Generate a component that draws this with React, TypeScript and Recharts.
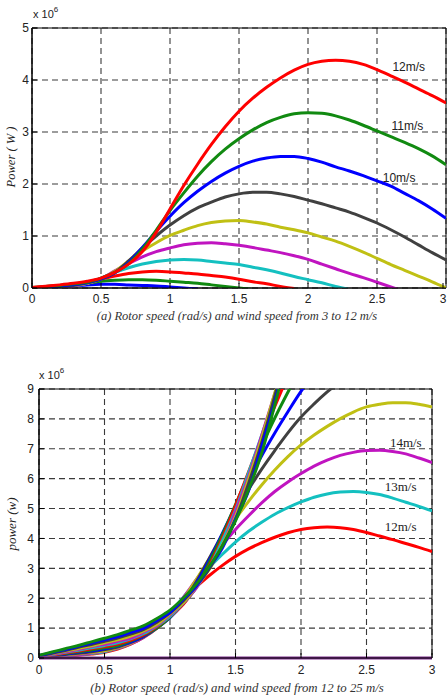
import { CartesianGrid, Line, LineChart, ReferenceArea, ReferenceDot, ReferenceLine, XAxis, YAxis } from "recharts"

// rotor speed grid (rad/s), shared by every curve
const rotorSpeed = [0, 0.1, 0.2, 0.3, 0.4, 0.5, 0.6, 0.7, 0.8, 0.9, 1, 1.1, 1.2, 1.3, 1.4, 1.5, 1.6, 1.7, 1.8, 1.9, 2, 2.1, 2.2, 2.3, 2.4, 2.5, 2.6, 2.7, 2.8, 2.9, 3]

// (a) power in MW for wind speeds 3..12 m/s
const p3 = [0, 0, 0.01, 0.04, 0.06, 0.07, 0.07, 0.06, 0.05, 0.04, 0.02, 0, -0.02]
const p4 = [0, 0, 0.01, 0.04, 0.09, 0.13, 0.15, 0.16, 0.16, 0.15, 0.13, 0.11, 0.09, 0.06, 0.03, 0, -0.03]
const p5 = [0, 0.01, 0.01, 0.04, 0.1, 0.17, 0.23, 0.28, 0.31, 0.32, 0.31, 0.29, 0.27, 0.24, 0.21, 0.17, 0.12, 0.08, 0.03, -0.01]
const p6 = [0, 0.01, 0.02, 0.04, 0.09, 0.19, 0.3, 0.39, 0.46, 0.51, 0.54, 0.55, 0.54, 0.51, 0.48, 0.45, 0.4, 0.35, 0.29, 0.22, 0.16, 0.1, 0.03, -0.03]
const p7 = [0, 0.01, 0.02, 0.04, 0.09, 0.18, 0.33, 0.47, 0.6, 0.7, 0.77, 0.83, 0.86, 0.87, 0.85, 0.82, 0.78, 0.73, 0.68, 0.62, 0.55, 0.46, 0.37, 0.28, 0.2, 0.11, 0.02, -0.07]
const p8 = [0, 0.01, 0.03, 0.05, 0.09, 0.17, 0.32, 0.52, 0.71, 0.87, 1.01, 1.11, 1.2, 1.26, 1.29, 1.3, 1.27, 1.23, 1.17, 1.12, 1.06, 0.98, 0.9, 0.8, 0.69, 0.57, 0.45, 0.34, 0.23, 0.12, 0]
const p9 = [0, 0.02, 0.03, 0.05, 0.1, 0.17, 0.3, 0.52, 0.77, 1.0, 1.21, 1.39, 1.54, 1.65, 1.75, 1.81, 1.84, 1.84, 1.81, 1.76, 1.69, 1.62, 1.54, 1.46, 1.36, 1.25, 1.12, 0.98, 0.83, 0.68, 0.54]
const p10 = [0.01, 0.02, 0.04, 0.06, 0.1, 0.17, 0.29, 0.49, 0.78, 1.09, 1.38, 1.64, 1.86, 2.05, 2.21, 2.34, 2.44, 2.5, 2.53, 2.53, 2.49, 2.42, 2.33, 2.25, 2.16, 2.06, 1.96, 1.82, 1.68, 1.52, 1.34]
const p11 = [0.01, 0.03, 0.05, 0.08, 0.11, 0.19, 0.3, 0.47, 0.75, 1.11, 1.49, 1.83, 2.15, 2.43, 2.67, 2.87, 3.04, 3.18, 3.28, 3.35, 3.37, 3.36, 3.31, 3.23, 3.13, 3.02, 2.91, 2.8, 2.68, 2.54, 2.37]
const p12 = [0.01, 0.035, 0.06, 0.09, 0.13, 0.19, 0.3, 0.46, 0.7, 1.07, 1.52, 1.97, 2.38, 2.76, 3.1, 3.4, 3.65, 3.86, 4.04, 4.19, 4.3, 4.36, 4.38, 4.36, 4.3, 4.2, 4.08, 3.96, 3.83, 3.7, 3.56]

// (b) power in MW for wind speeds 12..25 m/s (curves stop once they leave the top)
const q12 = p12
const q13 = [0.01, 0.04, 0.07, 0.11, 0.15, 0.21, 0.32, 0.48, 0.7, 1.04, 1.49, 2.02, 2.55, 3.03, 3.47, 3.88, 4.24, 4.54, 4.81, 5.03, 5.22, 5.38, 5.49, 5.55, 5.57, 5.54, 5.47, 5.35, 5.21, 5.07, 4.92]
const q14 = [0.02, 0.05, 0.09, 0.12, 0.17, 0.23, 0.33, 0.48, 0.69, 1.0, 1.45, 2.01, 2.62, 3.22, 3.78, 4.3, 4.76, 5.19, 5.57, 5.89, 6.17, 6.42, 6.62, 6.78, 6.88, 6.94, 6.95, 6.91, 6.83, 6.69, 6.54]
const q15 = [0.02, 0.06, 0.1, 0.14, 0.19, 0.24, 0.35, 0.5, 0.71, 0.99, 1.37, 1.95, 2.62, 3.32, 4.01, 4.65, 5.24, 5.79, 6.29, 6.74, 7.13, 7.46, 7.75, 8.01, 8.23, 8.4, 8.49, 8.54, 8.54, 8.49, 8.4]
const q16 = [0.02, 0.07, 0.12, 0.16, 0.21, 0.28, 0.37, 0.52, 0.71, 1.0, 1.38, 1.88, 2.54, 3.34, 4.14, 4.91, 5.64, 6.32, 6.94, 7.53, 8.06, 8.5, 8.9, 9.26]
const q17 = [0.03, 0.08, 0.13, 0.19, 0.24, 0.31, 0.4, 0.53, 0.74, 1.01, 1.35, 1.83, 2.49, 3.27, 4.17, 5.08, 5.94, 6.77, 7.53, 8.24, 8.92, 9.51]
const q18 = [0.03, 0.09, 0.15, 0.21, 0.27, 0.34, 0.42, 0.57, 0.77, 1.01, 1.37, 1.82, 2.36, 3.2, 4.12, 5.13, 6.14, 7.1, 8.03, 8.89, 9.7]
const q19 = [0.04, 0.1, 0.17, 0.23, 0.31, 0.38, 0.47, 0.6, 0.78, 1.05, 1.39, 1.79, 2.38, 3.09, 4.01, 5.09, 6.23, 7.36, 8.42, 9.45]
const q20 = [0.05, 0.12, 0.19, 0.26, 0.34, 0.42, 0.51, 0.64, 0.82, 1.08, 1.39, 1.83, 2.35, 3.02, 3.93, 4.95, 6.2, 7.45, 8.7, 9.88]
const q21 = [0.05, 0.13, 0.21, 0.29, 0.38, 0.46, 0.56, 0.67, 0.87, 1.1, 1.44, 1.85, 2.34, 3.02, 3.75, 4.88, 6.07, 7.45, 8.84, 10.22]
const q22 = [0.06, 0.15, 0.23, 0.32, 0.41, 0.51, 0.61, 0.73, 0.91, 1.13, 1.48, 1.85, 2.39, 2.97, 3.78, 4.73, 5.98, 7.35, 8.87, 10.36]
const q23 = [0.07, 0.16, 0.25, 0.36, 0.45, 0.56, 0.67, 0.8, 0.96, 1.2, 1.51, 1.91, 2.41, 2.99, 3.75, 4.64, 5.84, 7.2, 8.77, 10.42]
const q24 = [0.08, 0.18, 0.28, 0.39, 0.5, 0.61, 0.72, 0.86, 1.0, 1.26, 1.52, 1.96, 2.4, 3.04, 3.68, 4.64, 5.6, 7.08, 8.56, 10.36]
const q25 = [0.09, 0.2, 0.31, 0.42, 0.54, 0.66, 0.78, 0.93, 1.08, 1.32, 1.6, 2.0, 2.47, 3.06, 3.75, 4.59, 5.63, 6.86, 8.47, 10.16]

const xTicks = [0, 0.5, 1, 1.5, 2, 2.5, 3]
const yTicksA = [0, 1, 2, 3, 4, 5]
const yTicksB = [0, 1, 2, 3, 4, 5, 6, 7, 8, 9]

// matlab-ish color order
const B = "#0000ff"
const G = "#118a11"
const R = "#ff0000"
const C = "#14c0c0"
const M = "#c014c0"
const Y = "#c0c014"
const K = "#404040"

const seriesA = [
    { key: "v3", values: p3, color: B },
    { key: "v4", values: p4, color: G },
    { key: "v5", values: p5, color: R },
    { key: "v6", values: p6, color: C },
    { key: "v7", values: p7, color: M },
    { key: "v8", values: p8, color: Y },
    { key: "v9", values: p9, color: K },
    { key: "v10", values: p10, color: B },
    { key: "v11", values: p11, color: G },
    { key: "v12", values: p12, color: R },
]

const seriesB = [
    { key: "v12", values: q12, color: R },
    { key: "v13", values: q13, color: C },
    { key: "v14", values: q14, color: M },
    { key: "v15", values: q15, color: Y },
    { key: "v16", values: q16, color: K },
    { key: "v17", values: q17, color: B },
    { key: "v18", values: q18, color: G },
    { key: "v19", values: q19, color: R },
    { key: "v20", values: q20, color: C },
    { key: "v21", values: q21, color: M },
    { key: "v22", values: q22, color: Y },
    { key: "v23", values: q23, color: K },
    { key: "v24", values: q24, color: B },
    { key: "v25", values: q25, color: G },
]

const buildRows = (series: { key: string; values: number[] }[]) =>
    rotorSpeed.map((x, i) => {
        const row: Record<string, number | null> = { x }
        series.forEach(s => { row[s.key] = s.values[i] ?? null })
        return row
    })

const rowsA = buildRows(seriesA)
const rowsB = buildRows(seriesB)

const SANS = 'Arial, "Liberation Sans", Helvetica, sans-serif'
const SERIF = '"Times New Roman", "Liberation Serif", serif'

// tick labels with short inward tick marks
const makeXTick = (margin: number) => (props: any) => {
    const { x, y, payload } = props
    const axisY = y - margin
    return (
        <g>
            <line x1={x} x2={x} y1={axisY} y2={axisY - 5} stroke="#000" />
            <text x={x} y={y} dy="0.71em" textAnchor="middle" fontSize={12} fontFamily={SANS} fill="#222">{payload.value}</text>
        </g>
    )
}

const makeYTick = (margin: number) => (props: any) => {
    const { x, y, payload } = props
    const axisX = x + margin
    return (
        <g>
            <line x1={axisX} x2={axisX + 5} y1={y} y2={y} stroke="#000" />
            <text x={x} y={y} dy="0.36em" textAnchor="end" fontSize={12} fontFamily={SANS} fill="#222">{payload.value}</text>
        </g>
    )
}

function Exponent({ left, top }: { left: number; top: number }) {
    return (
        <div style={{ position: "absolute", left, top, fontFamily: SANS, fontSize: 11, color: "#222", whiteSpace: "nowrap" }}>
            x 10<span style={{ fontSize: 8, position: "relative", top: -6 }}>6</span>
        </div>
    )
}

function VerticalTitle({ cx, cy, text, size }: { cx: number; cy: number; text: string; size: number }) {
    return (
        <div style={{
            position: "absolute", left: cx - 60, top: cy - 8, width: 120, textAlign: "center",
            transform: "rotate(-90deg)", fontFamily: SERIF, fontStyle: "italic", fontSize: size, color: "#222", lineHeight: "16px",
        }}>{text}</div>
    )
}

function Caption({ top, text, size }: { top: number; text: string; size: number }) {
    return (
        <div style={{
            position: "absolute", left: 0, width: 474, top, textAlign: "center",
            fontFamily: SERIF, fontStyle: "italic", fontSize: size, color: "#333", whiteSpace: "nowrap",
        }}>{text}</div>
    )
}

const curveLabel = (value: string, font: string, size: number) => ({
    value, position: "center" as const, fontSize: size, fontFamily: font, fill: "#222",
})

const GRID = { stroke: "#3a3a3a", strokeDasharray: "6 4", strokeWidth: 1.1 }

export default function App() {
    return (
        <div style={{ position: "absolute", left: 0, top: 0, width: 447, height: 695, background: "#fff", overflow: "hidden" }}>
            {/* (a) 3 to 12 m/s */}
            <div style={{ position: "absolute", left: 0, top: 0 }}>
                <LineChart width={447} height={310} data={rowsA} margin={{ top: 28, right: 1, bottom: 2, left: 8 }}>
                    <CartesianGrid {...GRID} />
                    <XAxis type="number" dataKey="x" domain={[0, 3]} ticks={xTicks} allowDataOverflow
                        height={20} tickSize={0} tickMargin={6} tickLine={false} stroke="#000" tick={makeXTick(6)} />
                    <YAxis type="number" domain={[0, 5]} ticks={yTicksA} allowDataOverflow
                        width={24} tickSize={0} tickMargin={3} tickLine={false} stroke="#000" tick={makeYTick(3)} />
                    <ReferenceArea x1={0} x2={3} y1={0} y2={5} fill="none" stroke="#000" strokeWidth={1} />
                    {seriesA.map(s => (
                        <Line key={s.key} type="monotone" dataKey={s.key} stroke={s.color} strokeWidth={3}
                            dot={false} isAnimationActive={false} connectNulls={false} />
                    ))}
                    <ReferenceDot x={2.73} y={4.25} r={0} fill="none" stroke="none" label={curveLabel("12m/s", SANS, 12)} />
                    <ReferenceDot x={2.72} y={3.12} r={0} fill="none" stroke="none" label={curveLabel("11m/s", SANS, 12)} />
                    <ReferenceDot x={2.66} y={2.13} r={0} fill="none" stroke="none" label={curveLabel("10m/s", SANS, 12)} />
                </LineChart>
            </div>
            <Exponent left={33} top={8} />
            <VerticalTitle cx={11} cy={157} text="Power ( W )" size={12.5} />
            <Caption top={309} text="(a) Rotor speed (rad/s) and wind speed from 3 to 12 m/s" size={12.5} />

            {/* (b) 12 to 25 m/s */}
            <div style={{ position: "absolute", left: 0, top: 340 }}>
                <LineChart width={447} height={340} data={rowsB} margin={{ top: 49, right: 15, bottom: 2, left: 8 }}>
                    <CartesianGrid {...GRID} />
                    <XAxis type="number" dataKey="x" domain={[0, 3]} ticks={xTicks} allowDataOverflow
                        height={20} tickSize={0} tickMargin={7} tickLine={false} stroke="#000" tick={makeXTick(7)} />
                    <YAxis type="number" domain={[0, 9]} ticks={yTicksB} allowDataOverflow
                        width={31} tickSize={0} tickMargin={5} tickLine={false} stroke="#000" tick={makeYTick(5)} />
                    <ReferenceArea x1={0} x2={3} y1={0} y2={9} fill="none" stroke="#000" strokeWidth={1} />
                    {seriesB.map(s => (
                        <Line key={s.key} type="monotone" dataKey={s.key} stroke={s.color} strokeWidth={3}
                            dot={false} isAnimationActive={false} connectNulls={false} />
                    ))}
                    <ReferenceLine y={0} stroke="#7e2f8e" strokeWidth={3} />
                    <ReferenceDot x={2.8} y={7.23} r={0} fill="none" stroke="none" label={curveLabel("14m/s", SERIF, 13)} />
                    <ReferenceDot x={2.76} y={5.73} r={0} fill="none" stroke="none" label={curveLabel("13m/s", SERIF, 13)} />
                    <ReferenceDot x={2.76} y={4.39} r={0} fill="none" stroke="none" label={curveLabel("12m/s", SERIF, 13)} />
                </LineChart>
            </div>
            <Exponent left={39} top={369} />
            <VerticalTitle cx={12} cy={524} text="power (w)" size={13} />
            <Caption top={681} text="(b) Rotor speed (rad/s) and wind speed from 12 to 25 m/s" size={12.8} />
        </div>
    )
}
